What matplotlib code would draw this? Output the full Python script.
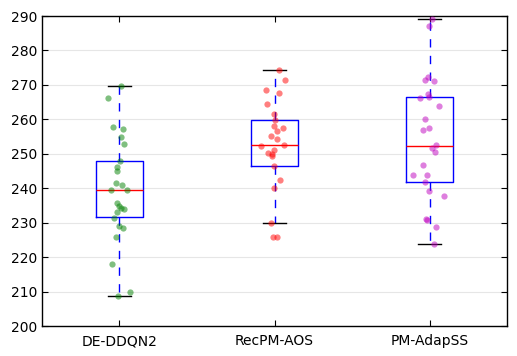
import matplotlib
matplotlib.use("Agg")
import matplotlib.pyplot as plt

categories = ["DE-DDQN2", "RecPM-AOS", "PM-AdapSS"]

de_ddqn2 = [269.7, 266.2, 257.7, 257.1, 254.8, 252.8, 247.9, 246.1, 245.0, 241.4,
            240.9, 239.5, 239.5, 235.7, 234.8, 234.3, 233.9, 233.0, 231.5, 229.1,
            228.6, 225.8, 218.0, 209.9, 208.6]
recpm_aos = [274.2, 271.3, 268.4, 267.8, 264.6, 261.6, 259.7, 258.2, 257.4, 256.5,
             255.3, 254.2, 252.4, 252.7, 251.1, 250.2, 249.9, 249.4, 246.5, 242.4,
             240.1, 229.8, 226.0, 226.0]
pm_adapss = [289.1, 287.1, 271.4, 272.2, 271.1, 267.5, 266.1, 266.4, 263.8, 260.1,
             257.5, 256.9, 252.6, 251.7, 250.5, 246.7, 243.8, 243.8, 241.8, 239.2,
             237.7, 231.1, 230.8, 228.7, 223.7]

# box statistics
q1 = [231.7, 246.6, 241.7]
med = [239.5, 252.7, 252.4]
q3 = [247.9, 259.7, 266.4]
whislo = [208.6, 229.8, 223.7]
whishi = [269.7, 274.2, 289.1]

# horizontal jitter (category units)
jit_de = [0.012, -0.072, -0.040, 0.025, 0.012, 0.031, 0.005, -0.014, -0.014, -0.021,
          0.018, -0.053, 0.050, -0.014, -0.001, 0.012, 0.031, -0.014, -0.034, -0.001,
          0.025, -0.021, -0.046, 0.070, -0.008]
jit_rec = [0.030, 0.068, -0.054, 0.030, -0.048, -0.003, 0.004, -0.003, 0.055, 0.017,
           -0.022, 0.017, -0.086, 0.062, -0.003, -0.041, -0.015, -0.015, -0.003, 0.036,
           -0.003, -0.022, -0.009, 0.017]
jit_pm = [0.018, -0.001, -0.027, -0.008, 0.031, -0.008, -0.059, -0.001, 0.063, -0.027,
          -0.001, -0.040, 0.044, 0.018, 0.037, -0.040, -0.105, -0.014, -0.027, -0.001,
          0.095, -0.021, -0.014, 0.044, 0.025]

series = [de_ddqn2, recpm_aos, pm_adapss]
jitters = [jit_de, jit_rec, jit_pm]
colors = ["g", "r", "m"]

fig = plt.figure(figsize=(5.17, 3.56), dpi=100)
ax = fig.add_axes([0.081, 0.084, 0.900, 0.871])

stats = []
for i, name in enumerate(categories):
    stats.append(dict(label=name, q1=q1[i], med=med[i], q3=q3[i],
                      whislo=whislo[i], whishi=whishi[i], fliers=[]))

ax.bxp(stats, positions=[1, 2, 3], widths=0.3, showfliers=False,
       boxprops=dict(color="blue", linewidth=1.0),
       medianprops=dict(color="red", linewidth=1.0),
       whiskerprops=dict(color="blue", linestyle=(0, (6, 6)), linewidth=1.0),
       capprops=dict(color="black", linewidth=1.0))

for i, (vals, jit) in enumerate(zip(series, jitters)):
    xs = [i + 1 + j for j in jit]
    ax.plot(xs, vals, "o", color=colors[i], alpha=0.5, markersize=4.5,
            markeredgewidth=0, zorder=3)

ax.set_xlim(0.5, 3.5)
ax.set_ylim(200, 290)
ax.set_yticks(range(200, 291, 10))
ax.set_xticks([1, 2, 3])
ax.set_xticklabels(categories)
ax.yaxis.grid(True, color="#e6e6e6", linewidth=0.8)
ax.set_axisbelow(True)
ax.tick_params(labelsize=10, direction="in", length=4, width=0.8,
               top=True, right=True, bottom=True, left=True)
ax.tick_params(axis="x", pad=6)
for s in ax.spines.values():
    s.set_color("black")
    s.set_linewidth(1.0)

fig.savefig("out.png", dpi=100)
